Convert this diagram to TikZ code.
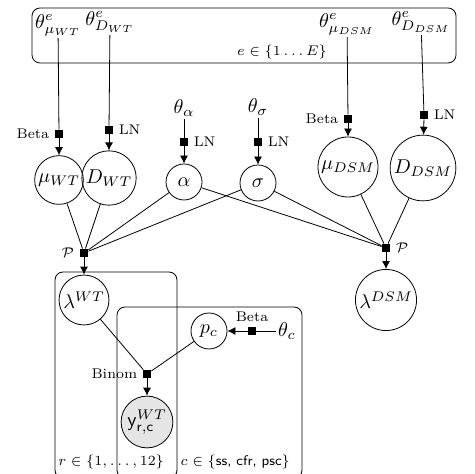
\documentclass[tikz,border=0pt]{standalone}
\usetikzlibrary{arrows.meta,positioning,shapes.geometric}
\tikzset{
    >={Latex[length=4pt,width=4pt]},
    latent/.style={
      circle,
      draw=black,
      inner sep=1pt,
      minimum size=18pt},
    obs/.style={latent, fill=gray!20},
    factor/.style={
      rectangle,
      fill=black,
      inner sep=0pt,
      minimum size=4pt},
    lbl/.style={font=\scriptsize, inner sep=2pt, label distance=0.5pt},
    param/.style={inner sep=1pt},
    platelbl/.style={font=\scriptsize},
    plate/.style={draw, rounded corners=4pt},
}

\begin{document}
\begin{tikzpicture}[x=0.5pt, y=-0.5pt]
    \clip (0,0) rectangle (474,474);
    \draw[plate] (32,8) rectangle (456,63);
    \draw[plate] (55,272) rectangle (177,478);
    \draw[plate] (117,307) rectangle (302,478);
    \node[platelbl] (eRange) at (282,52) {$e \in \{1\ldots E\}$};
    \node[platelbl, anchor=east] (rRange) at (171,462) {$r \in \{1,\ldots,12\}$};
    \node[platelbl, anchor=east] (cRange) at (297,462) {$c \in \{$\textsf{ss, cfr, psc}$\}$};

    \node[param] (thMuWT)  at (58,25)  {$\theta^e_{\mu_{WT}}$};
    \node[param] (thDWT)   at (110,22) {$\theta^e_{D_{WT}}$};
    \node[param] (thMuDSM) at (347,24) {$\theta^e_{\mu_{DSM}}$};
    \node[param] (thDDSM)  at (421,22) {$\theta^e_{D_{DSM}}$};
    \node[param] (thAlpha) at (184,108) {$\theta_\alpha$};
    \node[param] (thSigma) at (258,107) {$\theta_\sigma$};
    \node[param] (thC)     at (287,331) {$\theta_c$};

    \node[factor, label={[lbl]left:Beta}]  (fMuWT)  at (59,134) {};
    \node[factor, label={[lbl]right:LN}]   (fDWT)   at (109,130) {};
    \node[factor, label={[lbl]right:LN}]   (fAlpha) at (184,142) {};
    \node[factor, label={[lbl]right:LN}]   (fSigma) at (258,142) {};
    \node[factor, label={[lbl]left:Beta}]  (fMuDSM) at (348,119) {};
    \node[factor, label={[lbl]right:LN}]   (fDDSM)  at (424,115) {};
    \node[factor, label={[lbl]left:$\mathcal{P}$}]  (pWT)  at (84,253) {};
    \node[factor, label={[lbl]right:$\mathcal{P}$}] (pDSM) at (386,248) {};
    \node[factor, label={[lbl]above:Beta}]  (fPc)    at (252,331) {};
    \node[factor, label={[lbl]left:Binom}]  (fBinom) at (147,374) {};

    \node[latent] (muWT)   at (59,180)  {$\mu_{WT}$};
    \node[latent] (DWT)    at (109,178) {$D_{WT}$};
    \node[latent] (alpha)  at (184,182) {$\alpha$};
    \node[latent] (sigma)  at (258,183) {$\sigma$};
    \node[latent] (muDSM)  at (348,167) {$\mu_{DSM}$};
    \node[latent] (DDSM)   at (423,168) {$D_{DSM}$};
    \node[latent] (lamWT)  at (84,300)  {$\lambda^{WT}$};
    \node[latent] (lamDSM) at (386,300) {$\lambda^{DSM}$};
    \node[latent] (pc)     at (209,331) {$p_c$};
    \node[obs]    (yWT)    at (147,422) {$\mathsf{y}^{WT}_{\mathsf{r,c}}$};

    \draw (thMuWT) -- (fMuWT);
    \draw[->] (fMuWT) -- (muWT);
    \draw (thDWT) -- (fDWT);
    \draw[->] (fDWT) -- (DWT);
    \draw (thAlpha) -- (fAlpha);
    \draw[->] (fAlpha) -- (alpha);
    \draw (thSigma) -- (fSigma);
    \draw[->] (fSigma) -- (sigma);
    \draw (thMuDSM) -- (fMuDSM);
    \draw[->] (fMuDSM) -- (muDSM);
    \draw (thDDSM) -- (fDDSM);
    \draw[->] (fDDSM) -- (DDSM);

    \draw (muWT) -- (pWT);
    \draw (DWT) -- (pWT);
    \draw (alpha) -- (pWT);
    \draw (sigma) -- (pWT);
    \draw (alpha) -- (pDSM);
    \draw (sigma) -- (pDSM);
    \draw (muDSM) -- (pDSM);
    \draw (DDSM) -- (pDSM);
    \draw[->] (pWT) -- (lamWT);
    \draw[->] (pDSM) -- (lamDSM);

    \draw (thC) -- (fPc);
    \draw[->] (fPc) -- (pc);
    \draw (lamWT) -- (fBinom);
    \draw (pc) -- (fBinom);
    \draw[->] (fBinom) -- (yWT);
\end{tikzpicture}
\end{document}
